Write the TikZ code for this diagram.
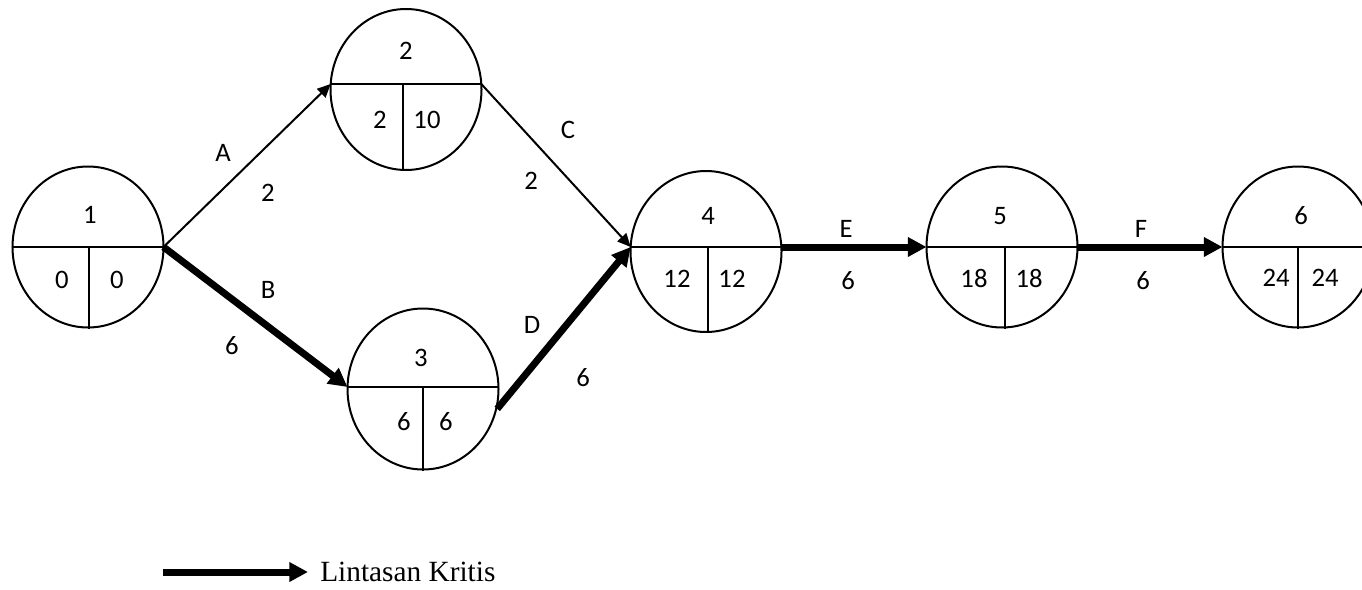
\documentclass[tikz,border=0pt]{standalone}
\usepackage{fontspec}
\setmainfont{Liberation Serif}
\newfontfamily\calfont{Carlito}
\usetikzlibrary{arrows.meta,shapes.geometric,calc}
\begin{document}
\begin{tikzpicture}[x=0.75pt,y=-0.75pt,
  ev/.style={draw, line width=1.5pt, ellipse, minimum width=113.25pt, minimum height=120.75pt, inner sep=0pt},
  lbl/.style={font=\calfont\fontsize{20}{24}\selectfont, inner sep=0pt},
  act/.style={line width=1.5pt, -{Triangle[length=10pt,width=9pt]}},
  crit/.style={line width=5.25pt, -{Triangle[length=14pt,width=14pt]}},
  divl/.style={line width=1.5pt}]
\clip (0,0) rectangle (1362,589);
% event nodes
\node[ev] (n1) at (88,247) {};
\node[ev] (n2) at (406,89.5) {};
\node[ev] (n3) at (423,389) {};
\node[ev] (n4) at (706,251.5) {};
\node[ev] (n5) at (1002,247) {};
\node[ev] (n6) at (1298,247) {};
% divider end points
\coordinate (n1w) at ($(n1.center)+(-75.5,0)$);
\coordinate (n1e) at ($(n1.center)+(75.5,0)$);
\coordinate (n2w) at ($(n2.center)+(-75.3,-5.5)$);
\coordinate (n2e) at ($(n2.center)+(75.3,-5.5)$);
\coordinate (n3w) at ($(n3.center)+(-75.5,-2)$);
\coordinate (n3e) at ($(n3.center)+(75.5,-2)$);
\coordinate (n4w) at ($(n4.center)+(-75.3,-4.5)$);
\coordinate (n4e) at ($(n4.center)+(75.3,-4.5)$);
\coordinate (n5w) at ($(n5.center)+(-75.5,0)$);
\coordinate (n5e) at ($(n5.center)+(75.5,0)$);
\coordinate (n6w) at ($(n6.center)+(-75.5,0)$);
\coordinate (n6e) at ($(n6.center)+(75.5,0)$);
% dividers
\draw[divl] (n1w) -- (n1e);
\draw[divl] (n2w) -- (n2e);
\draw[divl] (n3w) -- (n3e);
\draw[divl] (n4w) -- (n4e);
\draw[divl] (n5w) -- (n5e);
\draw[divl] (n6w) -- (n6e);
\draw[divl] ($(n1.center)+(1,0)$) -- ($(n1.south)+(1,0)$);
\draw[divl] ($(n2.center)+(-3,-5.5)$) -- ($(n2.south)+(-3,0)$);
\draw[divl] ($(n3.center)+(0,-2)$) -- (n3.south);
\draw[divl] ($(n4.center)+(2,-4.5)$) -- ($(n4.south)+(2,0)$);
\draw[divl] ($(n5.center)+(3,0)$) -- ($(n5.south)+(3,0)$);
\draw[divl] (n6.center) -- (n6.south);
% node texts
\node[lbl] (t1) at (90,215) {1};
\node[lbl] (t1a) at (62,280) {0};
\node[lbl] (t1b) at (117,280) {0};
\node[lbl] (t2) at (406,51) {2};
\node[lbl] (t2a) at (380,120) {2};
\node[lbl] (t2b) at (427,120) {10};
\node[lbl] (t3) at (421,358) {3};
\node[lbl] (t3a) at (404,422) {6};
\node[lbl] (t3b) at (446,422) {6};
\node[lbl] (t4) at (708,216) {4};
\node[lbl] (t4a) at (677,279) {12};
\node[lbl] (t4b) at (732,279) {12};
\node[lbl] (t5) at (1000,216) {5};
\node[lbl] (t5a) at (974,278) {18};
\node[lbl] (t5b) at (1029,278) {18};
\node[lbl] (t6) at (1301,216) {6};
\node[lbl] (t6a) at (1276,278) {24};
\node[lbl] (t6b) at (1325,278) {24};
% activities
\draw[act] (n1e) -- (n2w);
\draw[crit] (n1e) -- (n3w);
\draw[act] (n2e) -- (n4w);
\draw[crit] (n3.-15) -- (n4w);
\draw[crit] (n4e) -- (n5w);
\draw[crit] (n5e) -- (n6w);
% activity labels
\node[lbl] (la) at (223,153) {A};
\node[lbl] (lad) at (268,193) {2};
\node[lbl] (lb) at (268,290) {B};
\node[lbl] (lbd) at (232,346) {6};
\node[lbl] (lc) at (568,130) {C};
\node[lbl] (lcd) at (531,181) {2};
\node[lbl] (ld) at (532,325) {D};
\node[lbl] (ldd) at (583,378) {6};
\node[lbl] (le) at (846,229) {E};
\node[lbl] (led) at (848,281) {6};
\node[lbl] (lf) at (1141,229) {F};
\node[lbl] (lfd) at (1143,281) {6};
% legend
\coordinate (lg1) at (163,572);
\coordinate (lg2) at (308,572);
\draw[crit] (lg1) -- (lg2);
\node[font=\fontsize{22}{26}\selectfont, anchor=west, inner sep=0pt] (lgt) at (320,572) {Lintasan Kritis};
\end{tikzpicture}
\end{document}
